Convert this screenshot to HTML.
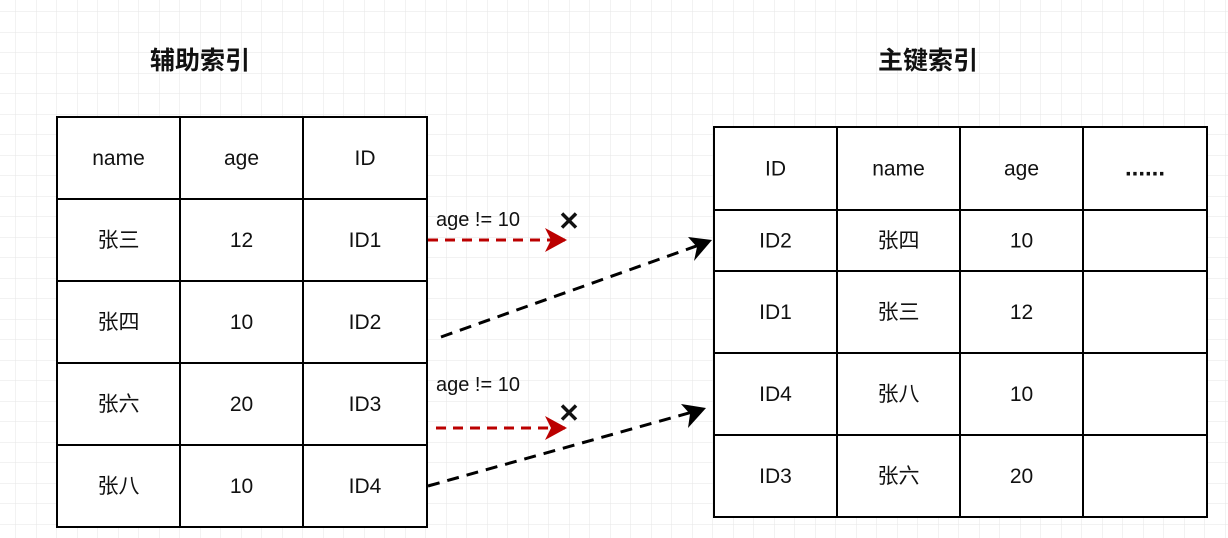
<!DOCTYPE html>
<html><head><meta charset="utf-8"><style>
html,body{margin:0;padding:0;background:#fff;}
svg{display:block;}
text{font-family:"Liberation Sans","Noto Sans CJK SC",sans-serif;fill:#111;}
</style></head><body>
<svg width="1228" height="538" viewBox="0 0 1228 538">
<defs>
<pattern id="g" x="16" y="12" width="20.5" height="20.5" patternUnits="userSpaceOnUse">
<path d="M20.5 0V20.5M0 20.5H20.5" stroke="#e6e6e6" stroke-width="1" fill="none"/>
</pattern>
</defs>
<rect width="1228" height="538" fill="url(#g)"/>
<text x="200" y="69" font-size="25" font-weight="bold" text-anchor="middle">辅助索引</text>
<text x="928" y="69" font-size="25" font-weight="bold" text-anchor="middle">主键索引</text>
<g id="lt"></g>
<g id="rt"></g>
<line x1="428" y1="240" x2="565" y2="240" stroke="#b00" stroke-width="3" stroke-dasharray="10,7"/>
<path d="M545 228L567 240L545 252L551 240Z" fill="#b00"/>
<text x="436" y="226" font-size="20">age != 10</text>
<text x="569" y="230" font-size="26" font-weight="bold" text-anchor="middle">✕</text>
<line x1="436" y1="428" x2="565" y2="428" stroke="#b00" stroke-width="3" stroke-dasharray="10,7"/>
<path d="M545 416L567 428L545 440L551 428Z" fill="#b00"/>
<text x="436" y="391" font-size="20">age != 10</text>
<text x="569" y="422" font-size="26" font-weight="bold" text-anchor="middle">✕</text>
<line x1="441" y1="337" x2="702" y2="244" stroke="#000" stroke-width="3" stroke-dasharray="12,8"/>
<path d="M712 240L694 261L697 247L688 237Z" fill="#000"/>
<line x1="428" y1="486" x2="696" y2="411" stroke="#000" stroke-width="3" stroke-dasharray="12,8"/>
<path d="M706 408L688 428L690 414L681 404Z" fill="#000"/>
</svg>
<script>
const NS="http://www.w3.org/2000/svg";
function table(gid,xs,ys,cells,fs){
  const g=document.getElementById(gid);
  const r=document.createElementNS(NS,"rect");
  r.setAttribute("x",xs[0]);r.setAttribute("y",ys[0]);
  r.setAttribute("width",xs[xs.length-1]-xs[0]);r.setAttribute("height",ys[ys.length-1]-ys[0]);
  r.setAttribute("fill","#fff");r.setAttribute("stroke","#000");r.setAttribute("stroke-width","2");
  
  
  g.appendChild(r);
  for(let i=1;i<xs.length-1;i++){const l=document.createElementNS(NS,"line");
    l.setAttribute("x1",xs[i]);l.setAttribute("x2",xs[i]);l.setAttribute("y1",ys[0]);l.setAttribute("y2",ys[ys.length-1]);
    l.setAttribute("stroke","#000");l.setAttribute("stroke-width","2");
    
    
    g.appendChild(l);}
  for(let i=1;i<ys.length-1;i++){const l=document.createElementNS(NS,"line");
    l.setAttribute("y1",ys[i]);l.setAttribute("y2",ys[i]);l.setAttribute("x1",xs[0]);l.setAttribute("x2",xs[xs.length-1]);
    l.setAttribute("stroke","#000");l.setAttribute("stroke-width","2");
    
    
    g.appendChild(l);}
  cells.forEach((row,ri)=>row.forEach((c,ci)=>{
    if(!c)return;
    const t=document.createElementNS(NS,"text");
    t.setAttribute("x",(xs[ci]+xs[ci+1])/2);t.setAttribute("y",(ys[ri]+ys[ri+1])/2+7);
    t.setAttribute("text-anchor","middle");t.setAttribute("font-size",fs);
    if(c==="......"){t.setAttribute("font-weight","bold");t.setAttribute("font-size","24");}
    t.textContent=c;
    
    
    g.appendChild(t);}));
}
table("lt",[57,180,303,427],[117,199,281,363,445,527],
 [["name","age","ID"],["张三","12","ID1"],["张四","10","ID2"],["张六","20","ID3"],["张八","10","ID4"]],21);
table("rt",[714,837,960,1083,1207],[127,210,271,353,435,517],
 [["ID","name","age","......"],["ID2","张四","10",""],["ID1","张三","12",""],["ID4","张八","10",""],["ID3","张六","20",""]],21);
</script>
</body></html>
